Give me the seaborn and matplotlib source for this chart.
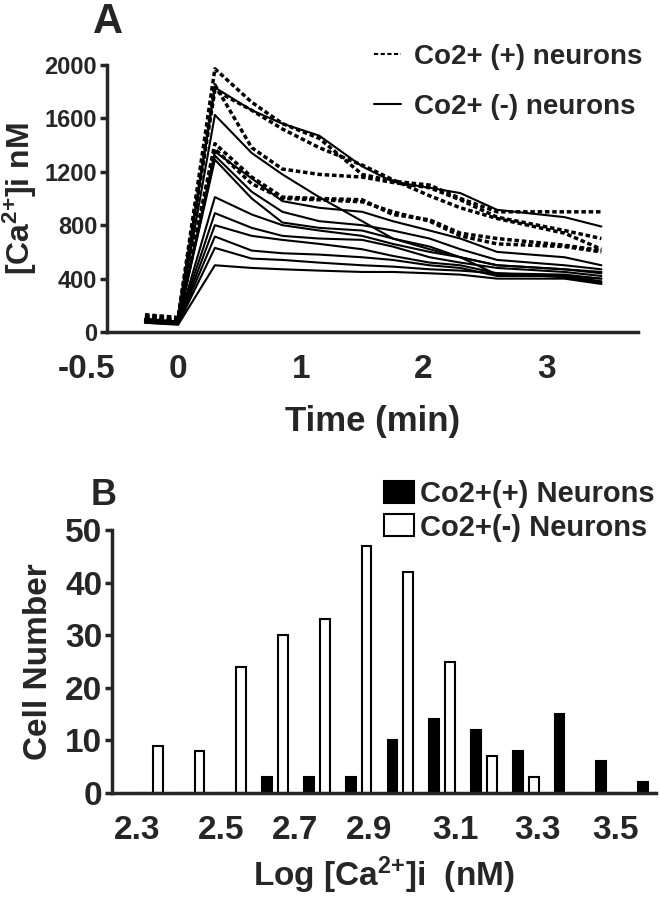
import numpy as np
import pandas as pd
import seaborn as sns
import matplotlib
matplotlib.use("Agg")
import matplotlib.pyplot as plt
from matplotlib import transforms
from matplotlib.lines import Line2D
from matplotlib.patches import Patch

# Panel A: [Ca2+]i traces of single neurons (nM)
time_min = [-0.27, 0, 0.3, 0.6, 0.85, 1.15, 1.5, 1.75, 2.05, 2.3, 2.6, 3.15, 3.45]

co_pos_traces = [
    [130, 110, 1970, 1720, 1560, 1450, 1180, 1130, 1100, 1000, 900, 900, 900],
    [120, 100, 1850, 1380, 1220, 1180, 1160, 1120, 1080, 990, 860, 760, 700],
    [110, 90, 1810, 1660, 1520, 1380, 1250, 1140, 1020, 930, 850, 740, 620],
    [100, 85, 1410, 1160, 1010, 1000, 990, 880, 840, 740, 700, 650, 610],
    [95, 80, 1370, 1110, 1000, 990, 975, 900, 830, 720, 660, 640, 600],
]
co_neg_traces = [
    [100, 80, 1830, 1660, 1560, 1470, 1240, 1125, 1080, 1040, 915, 860, 790],
    [90, 75, 1625, 1340, 1180, 1010, 830, 700, 620, 560, 430, 420, 400],
    [90, 70, 1350, 1150, 980, 930, 900, 830, 760, 700, 600, 560, 500],
    [85, 70, 1320, 1050, 900, 830, 800, 760, 700, 620, 540, 500, 470],
    [85, 70, 1290, 1000, 820, 780, 760, 700, 640, 560, 500, 470, 440],
    [80, 65, 1010, 880, 800, 760, 720, 660, 600, 560, 500, 470, 450],
    [80, 65, 890, 780, 720, 700, 690, 640, 560, 520, 480, 450, 420],
    [75, 60, 800, 720, 690, 660, 620, 570, 520, 500, 440, 430, 400],
    [75, 60, 715, 610, 590, 580, 560, 540, 500, 480, 420, 420, 380],
    [70, 60, 630, 550, 540, 520, 500, 490, 470, 460, 440, 410, 370],
    [70, 55, 500, 480, 470, 460, 450, 450, 440, 430, 400, 400, 360],
]

# Panel B: histogram counts per log bin
bins = list(range(13))
co_pos_counts = [0, 0, 0, 3, 3, 3, 10, 14, 12, 8, 15, 6, 2]
co_neg_counts = [9, 8, 24, 30, 33, 47, 42, 25, 7, 3, 0, 0, 0]
log_tick_labels = ["2.3", "2.5", "2.7", "2.9", "3.1", "3.3", "3.5"]

POS_A, NEG_A = "Co2+ (+) neurons", "Co2+ (-) neurons"
POS_B, NEG_B = "Co2+(+) Neurons", "Co2+(-) Neurons"

sns.set_style("ticks")
plt.rcParams["font.family"] = ["Liberation Sans", "DejaVu Sans"]
plt.rcParams["font.weight"] = "bold"
plt.rcParams["mathtext.fontset"] = "custom"
plt.rcParams["mathtext.rm"] = "Liberation Sans:bold"
plt.rcParams["mathtext.bf"] = "Liberation Sans:bold"
plt.rcParams["mathtext.default"] = "bf"

# long form table for the traces
rows = []
for i, tr in enumerate(co_pos_traces):
    for t, v in zip(time_min, tr):
        rows.append({"time": t, "ca": v, "cell": f"p{i}", "group": POS_A})
for i, tr in enumerate(co_neg_traces):
    for t, v in zip(time_min, tr):
        rows.append({"time": t, "ca": v, "cell": f"n{i}", "group": NEG_A})
traces = pd.DataFrame(rows)

hist = pd.DataFrame({
    "bin": bins * 2,
    "count": co_pos_counts + co_neg_counts,
    "group": [POS_B] * len(bins) + [NEG_B] * len(bins),
})

fig = plt.figure(figsize=(6.6, 9), dpi=100)
axA = fig.add_axes([0.162, 0.631, 0.805, 0.297])
axB = fig.add_axes([0.170, 0.119, 0.824, 0.292])

# ---- Panel A
sns.lineplot(data=traces, x="time", y="ca", units="cell", estimator=None,
             style="group", size="group",
             dashes={POS_A: (1.3, 0.8), NEG_A: ""},
             sizes={POS_A: 2.5, NEG_A: 1.5},
             color="black", legend=False, ax=axA)
axA.set_xlim(-0.58, 3.75)
axA.set_ylim(0, 2000)
axA.set_yticks(range(0, 2001, 400))
axA.set_xticks([-0.5, 0, 1, 2, 3])
axA.set_xticklabels(["-0.5", "0", "1", "2", "3"])
axA.tick_params(axis="y", labelsize=17, length=5, width=2.5, pad=2)
axA.tick_params(axis="x", labelsize=24, length=0, pad=16)
# the -0.5 label sits left of the y axis in the original
lab = axA.get_xticklabels()[0]
lab.set_transform(lab.get_transform() + transforms.ScaledTranslation(-0.3, 0, fig.dpi_scale_trans))
axA.set_xlabel("Time (min)", fontsize=25, fontweight="bold", labelpad=14)
axA.set_ylabel(r"[Ca$^{\text{2+}}$]i nM", fontsize=23, fontweight="bold", labelpad=4)

handlesA = [Line2D([], [], color="black", lw=1.5, ls=(0, (2, 1.2))),
            Line2D([], [], color="black", lw=1.5)]
fig.legend(handlesA, [POS_A, NEG_A], loc="upper right", bbox_to_anchor=(0.973, 0.951),
           frameon=False, fontsize=20, handlelength=1.0, handletextpad=0.45,
           labelspacing=0.85, borderpad=0, borderaxespad=0)

# ---- Panel B
sns.barplot(data=hist, x="bin", y="count", hue="group", hue_order=[POS_B, NEG_B],
            palette={POS_B: "black", NEG_B: "white"}, edgecolor="black",
            linewidth=1.5, width=0.76, gap=0.38, errorbar=None, legend=False, ax=axB)
axB.set_xlim(-0.9, 12.12)
axB.set_ylim(0, 50)
axB.set_yticks(range(0, 51, 10))
axB.set_xticks([-0.31, 1.71, 3.48, 5.24, 7.31, 9.29, 11.14])
axB.set_xticklabels(log_tick_labels)
axB.tick_params(axis="y", labelsize=24, length=5, width=2.5, pad=2)
axB.tick_params(axis="x", labelsize=24, length=0, pad=16)
axB.set_xlabel(r"Log [Ca$^{\text{2+}}$]i  (nM)", fontsize=24, fontweight="bold", labelpad=6)
axB.set_ylabel("Cell Number", fontsize=24, fontweight="bold", labelpad=8)

handlesB = [Patch(facecolor="black", edgecolor="black", lw=1.5),
            Patch(facecolor="white", edgecolor="black", lw=1.5)]
fig.legend(handlesB, [POS_B, NEG_B], loc="upper right", bbox_to_anchor=(0.992, 0.467),
           frameon=False, fontsize=21, handlelength=1.05, handleheight=0.78,
           handletextpad=0.2, labelspacing=0.2, borderpad=0, borderaxespad=0)

for ax in (axA, axB):
    sns.despine(ax=ax)
    for s in ("left", "bottom"):
        ax.spines[s].set_linewidth(2.5)

fig.text(108 / 660, 1 - 22 / 900, "A", ha="center", va="center", fontsize=30, fontweight="bold")
fig.text(104 / 660, 1 - 495 / 900, "B", ha="center", va="center", fontsize=26, fontweight="bold")

fig.savefig("out.png", dpi=100)
